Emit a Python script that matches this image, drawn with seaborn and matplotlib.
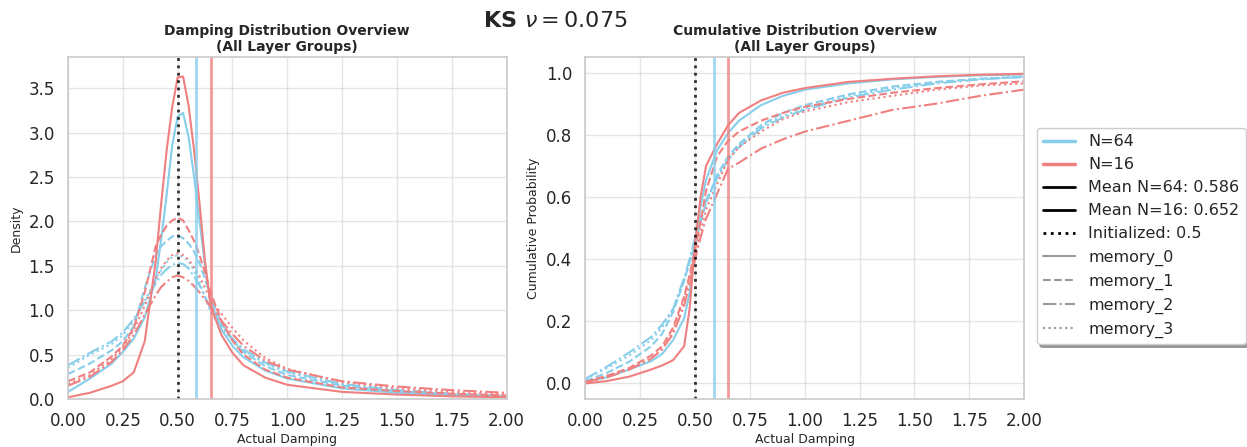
import numpy as np
import pandas as pd
import matplotlib
matplotlib.use("Agg")
import matplotlib.pyplot as plt
from matplotlib.lines import Line2D
import seaborn as sns

# ---- data ----
groups = ["N=64", "N=16"]
memories = ["memory_0", "memory_1", "memory_2", "memory_3"]
group_colors = {"N=64": "skyblue", "N=16": "lightcoral"}
mean_n64 = 0.586
mean_n16 = 0.652
init_value = 0.5

# density panel (KDE curves)
dens_x = [0.0, 0.1, 0.2, 0.25, 0.3, 0.35, 0.4, 0.425, 0.45, 0.475, 0.5, 0.525, 0.55,
          0.575, 0.6, 0.625, 0.65, 0.7, 0.75, 0.8, 0.9, 1.0, 1.25, 1.5, 1.75, 2.0]
dens_n64_m0 = [0.08, 0.23, 0.40, 0.53, 0.68, 0.92, 1.35, 1.8, 2.3, 2.85, 3.18, 3.22, 2.95,
               2.5, 2.0, 1.5, 1.1, 0.78, 0.6, 0.47, 0.32, 0.23, 0.12, 0.07, 0.04, 0.02]
dens_n64_m1 = [0.28, 0.4, 0.55, 0.65, 0.82, 1.25, 1.62, 1.72, 1.78, 1.83, 1.84, 1.81, 1.75,
               1.66, 1.53, 1.35, 1.15, 0.85, 0.66, 0.53, 0.37, 0.27, 0.15, 0.09, 0.05, 0.03]
dens_n64_m2 = [0.38, 0.52, 0.65, 0.75, 0.9, 1.1, 1.3, 1.4, 1.46, 1.51, 1.53, 1.52, 1.47,
               1.38, 1.28, 1.15, 1.02, 0.82, 0.68, 0.56, 0.41, 0.31, 0.17, 0.1, 0.06, 0.03]
dens_n64_m3 = [0.35, 0.5, 0.62, 0.72, 0.88, 1.1, 1.35, 1.45, 1.54, 1.6, 1.62, 1.6, 1.55,
               1.45, 1.32, 1.15, 0.98, 0.8, 0.66, 0.55, 0.4, 0.3, 0.16, 0.09, 0.05, 0.03]
dens_n16_m0 = [0.02, 0.07, 0.15, 0.2, 0.3, 0.65, 1.55, 2.2, 2.8, 3.28, 3.62, 3.63, 3.3,
               2.8, 2.2, 1.55, 1.05, 0.72, 0.52, 0.38, 0.24, 0.16, 0.08, 0.05, 0.03, 0.02]
dens_n16_m1 = [0.2, 0.3, 0.48, 0.6, 0.8, 1.2, 1.72, 1.85, 1.95, 2.01, 2.04, 2.01, 1.9,
               1.78, 1.62, 1.42, 1.2, 0.88, 0.66, 0.5, 0.33, 0.24, 0.13, 0.09, 0.06, 0.04]
dens_n16_m2 = [0.15, 0.25, 0.42, 0.55, 0.72, 0.95, 1.17, 1.26, 1.32, 1.37, 1.39, 1.37, 1.33,
               1.27, 1.2, 1.12, 1.04, 0.88, 0.73, 0.6, 0.43, 0.33, 0.2, 0.14, 0.1, 0.07]
dens_n16_m3 = [0.17, 0.27, 0.45, 0.58, 0.78, 1.05, 1.35, 1.47, 1.56, 1.62, 1.64, 1.62, 1.57,
               1.48, 1.38, 1.25, 1.12, 0.96, 0.8, 0.66, 0.46, 0.34, 0.19, 0.12, 0.08, 0.05]

# cumulative panel
cdf_x = [0.0, 0.1, 0.2, 0.3, 0.35, 0.4, 0.45, 0.475, 0.5, 0.525, 0.55, 0.6, 0.65,
         0.7, 0.8, 0.9, 1.0, 1.2, 1.4, 1.6, 1.8, 2.0]
cdf_n64_m0 = [0.005, 0.02, 0.045, 0.072, 0.095, 0.14, 0.21, 0.29, 0.46, 0.57, 0.655, 0.75,
              0.805, 0.845, 0.895, 0.925, 0.945, 0.965, 0.978, 0.986, 0.991, 0.994]
cdf_n64_m1 = [0.008, 0.035, 0.07, 0.12, 0.16, 0.23, 0.33, 0.39, 0.45, 0.52, 0.58, 0.67,
              0.73, 0.77, 0.83, 0.87, 0.895, 0.93, 0.955, 0.97, 0.98, 0.986]
cdf_n64_m2 = [0.015, 0.055, 0.1, 0.15, 0.19, 0.24, 0.34, 0.4, 0.47, 0.53, 0.59, 0.66,
              0.72, 0.76, 0.82, 0.855, 0.88, 0.92, 0.945, 0.965, 0.978, 0.986]
cdf_n64_m3 = [0.015, 0.05, 0.09, 0.14, 0.18, 0.24, 0.33, 0.39, 0.46, 0.52, 0.58, 0.66,
              0.72, 0.765, 0.825, 0.86, 0.885, 0.925, 0.95, 0.968, 0.98, 0.988]
cdf_n16_m0 = [0.0, 0.008, 0.022, 0.045, 0.058, 0.075, 0.12, 0.24, 0.45, 0.6, 0.7, 0.77,
              0.83, 0.87, 0.91, 0.935, 0.95, 0.97, 0.98, 0.988, 0.993, 0.996]
cdf_n16_m1 = [0.005, 0.025, 0.05, 0.09, 0.12, 0.18, 0.28, 0.35, 0.43, 0.52, 0.62, 0.73,
              0.78, 0.81, 0.845, 0.87, 0.89, 0.915, 0.935, 0.95, 0.962, 0.972]
cdf_n16_m2 = [0.005, 0.02, 0.045, 0.08, 0.11, 0.16, 0.25, 0.32, 0.4, 0.47, 0.53, 0.61,
              0.69, 0.71, 0.755, 0.785, 0.81, 0.845, 0.88, 0.9, 0.925, 0.945]
cdf_n16_m3 = [0.005, 0.025, 0.045, 0.08, 0.11, 0.17, 0.27, 0.34, 0.42, 0.49, 0.56, 0.64,
              0.72, 0.76, 0.81, 0.85, 0.875, 0.905, 0.925, 0.945, 0.958, 0.965]

dens_curves = {("N=64", "memory_0"): dens_n64_m0, ("N=64", "memory_1"): dens_n64_m1,
               ("N=64", "memory_2"): dens_n64_m2, ("N=64", "memory_3"): dens_n64_m3,
               ("N=16", "memory_0"): dens_n16_m0, ("N=16", "memory_1"): dens_n16_m1,
               ("N=16", "memory_2"): dens_n16_m2, ("N=16", "memory_3"): dens_n16_m3}
cdf_curves = {("N=64", "memory_0"): cdf_n64_m0, ("N=64", "memory_1"): cdf_n64_m1,
              ("N=64", "memory_2"): cdf_n64_m2, ("N=64", "memory_3"): cdf_n64_m3,
              ("N=16", "memory_0"): cdf_n16_m0, ("N=16", "memory_1"): cdf_n16_m1,
              ("N=16", "memory_2"): cdf_n16_m2, ("N=16", "memory_3"): cdf_n16_m3}


def to_long(xs, curves, col):
    parts = []
    for (g, m), vals in curves.items():
        parts.append(pd.DataFrame({"damping": xs, col: vals, "group": g, "memory": m}))
    return pd.concat(parts, ignore_index=True)


df_dens = to_long(dens_x, dens_curves, "density")
df_cdf = to_long(cdf_x, cdf_curves, "cum")

dash_map = {"memory_0": "", "memory_1": (3.7, 1.6),
            "memory_2": (6.4, 1.6, 1, 1.6), "memory_3": (1, 1.65)}

sns.set_theme(style="whitegrid")
fig, (ax1, ax2) = plt.subplots(1, 2, figsize=(12.47, 4.47), dpi=100)
fig.subplots_adjust(left=68 / 1247, right=1024 / 1247, bottom=1 - 399 / 447,
                    top=1 - 57 / 447, wspace=0.18)

for ax, df, col in [(ax1, df_dens, "density"), (ax2, df_cdf, "cum")]:
    sns.lineplot(data=df, x="damping", y=col, hue="group", style="memory",
                 hue_order=groups, style_order=memories, palette=group_colors,
                 dashes=dash_map, linewidth=1.5, legend=False, ax=ax)
    ax.axvline(mean_n64, color="skyblue", lw=2, alpha=0.8)
    ax.axvline(mean_n16, color="lightcoral", lw=2, alpha=0.8)
    ax.axvline(init_value, color="black", ls=":", lw=2, alpha=0.8)
    ax.set_xlim(0, 2)
    ax.set_xticks(np.arange(0, 2.01, 0.25))
    ax.set_xlabel("Actual Damping", fontsize=9, labelpad=2)
    ax.tick_params(labelsize=12)
    ax.grid(alpha=0.5)

ax1.set_ylim(0, 3.85)
ax1.set_ylabel("Density", fontsize=9)
ax1.set_title("Damping Distribution Overview\n(All Layer Groups)", fontsize=10,
              fontweight="bold", pad=4)
ax2.set_ylim(-0.05, 1.05)
ax2.set_ylabel("Cumulative Probability", fontsize=9)
ax2.set_title("Cumulative Distribution Overview\n(All Layer Groups)", fontsize=10,
              fontweight="bold", pad=4)

fig.text(0.445, 0.975, r"KS $\nu = 0.075$", ha="center", va="top",
         fontsize=16, fontweight="bold")

handles = [Line2D([], [], color="skyblue", lw=2.5, label="N=64"),
           Line2D([], [], color="lightcoral", lw=2.5, label="N=16"),
           Line2D([], [], color="black", lw=2, label=f"Mean N=64: {mean_n64}"),
           Line2D([], [], color="black", lw=2, label=f"Mean N=16: {mean_n16}"),
           Line2D([], [], color="black", lw=2, ls=":", label=f"Initialized: {init_value}")]
for m, d in zip(memories, ["-", "--", "-.", ":"]):
    handles.append(Line2D([], [], color="gray", lw=1.5, ls=d, alpha=0.8, label=m))
fig.legend(handles=handles, loc="upper left", bbox_to_anchor=(1037 / 1247, 1 - 128 / 447),
           fontsize=11.5, frameon=True, shadow=True, borderaxespad=0)

fig.savefig("out.png", dpi=100)
